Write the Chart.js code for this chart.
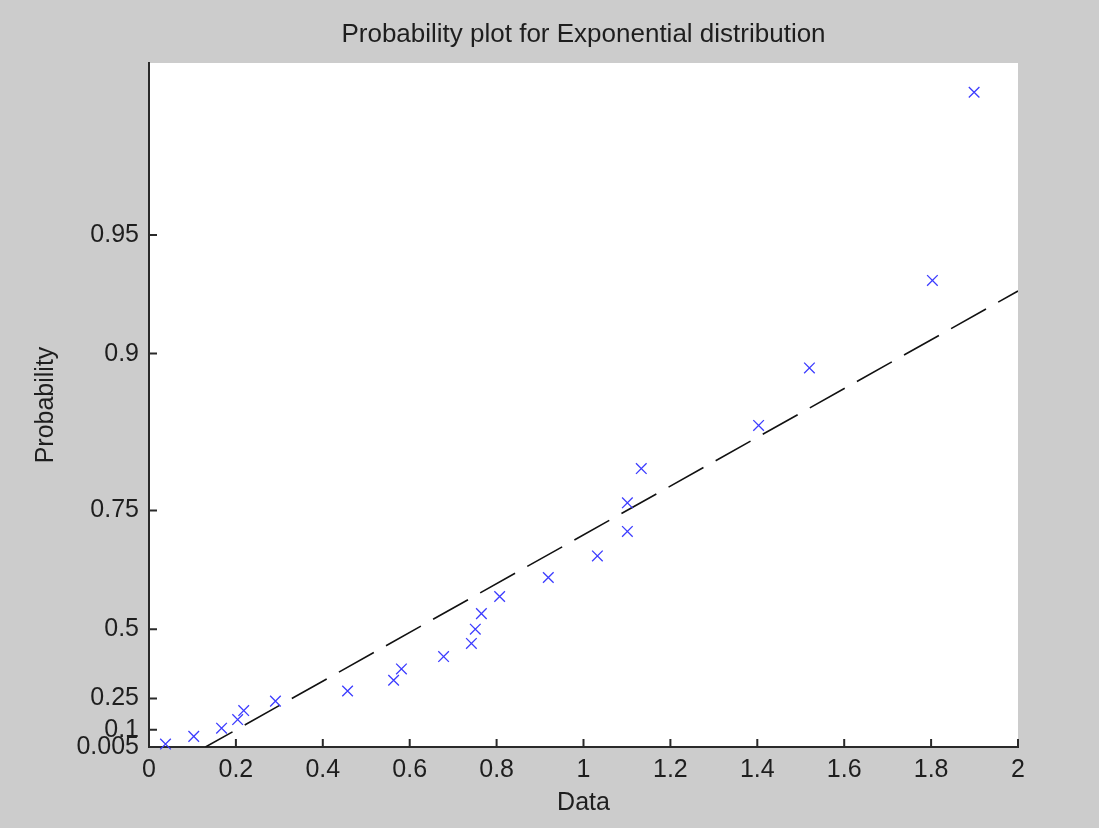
<!DOCTYPE html>
<html>
<head>
<meta charset="utf-8">
<script src="https://cdn.jsdelivr.net/npm/chart.js@4/dist/chart.umd.min.js"></script>
<style>
  html, body { margin: 0; padding: 0; background: #cccccc; }
  #wrap { width: 1099px; height: 828px; }
</style>
</head>
<body>
<div id="wrap"><canvas id="probChart"></canvas></div>
<script>
// sample values (x) and plotted positions on the exponential probability scale (y)
const dataX = [0.038, 0.103, 0.167, 0.204, 0.218, 0.291, 0.457, 0.563, 0.581, 0.678, 0.742, 0.751,
               0.765, 0.807, 0.919, 1.032, 1.101, 1.101, 1.133, 1.403, 1.520, 1.803, 1.899];
const dataY = [0.022, 0.067, 0.115, 0.165, 0.218, 0.273, 0.332, 0.395, 0.461, 0.533, 0.610, 0.693,
               0.784, 0.884, 0.995, 1.121, 1.264, 1.431, 1.631, 1.883, 2.219, 2.730, 3.829];

// reference line (dashed), end points
const refLineX = [0.13, 2];
const refLineY = [0.005, 2.668];

// probability tick labels on the y axis
const probTicks = [0.005, 0.1, 0.25, 0.5, 0.75, 0.9, 0.95];
const probLabels = ['0.005', '0.1', '0.25', '0.5', '0.75', '0.9', '0.95'];

const xTicks = [0, 0.2, 0.4, 0.6, 0.8, 1, 1.2, 1.4, 1.6, 1.8, 2];

const font = 'Liberation Sans, Arial, sans-serif';
const textColor = '#1e1e1e';
const axisColor = '#2a2a2a';

// gray figure, white axes area
const bgPlugin = {
  id: 'bg',
  beforeDraw(chart) {
    const { ctx, chartArea: a } = chart;
    ctx.save();
    ctx.fillStyle = '#cccccc';
    ctx.fillRect(0, 0, chart.width, chart.height);
    ctx.fillStyle = '#ffffff';
    ctx.fillRect(a.left, a.top, a.right - a.left, a.bottom - a.top);
    ctx.restore();
  }
};

// MATLAB style inward ticks
const tickPlugin = {
  id: 'inTicks',
  afterDatasetsDraw(chart) {
    const { ctx, chartArea: a, scales } = chart;
    const len = 8;
    ctx.save();
    ctx.strokeStyle = axisColor;
    ctx.lineWidth = 2;
    ctx.beginPath();
    scales.x.ticks.forEach(t => {
      const px = scales.x.getPixelForValue(t.value);
      ctx.moveTo(px, a.bottom);
      ctx.lineTo(px, a.bottom - len);
    });
    scales.y.ticks.forEach(t => {
      const py = scales.y.getPixelForValue(t.value);
      ctx.moveTo(a.left, py);
      ctx.lineTo(a.left + len, py);
    });
    ctx.stroke();
    ctx.restore();
  }
};

const ctx = document.getElementById('probChart');

new Chart(ctx, {
  type: 'scatter',
  data: {
    datasets: [
      {
        label: 'Data',
        data: dataX.map((x, i) => ({ x: x, y: dataY[i] })),
        pointStyle: 'crossRot',
        pointRadius: 7.5,
        pointBorderWidth: 1.3,
        borderColor: 'rgb(60, 60, 255)',
        backgroundColor: 'rgb(60, 60, 255)',
        showLine: false,
        clip: false,
        order: 1
      },
      {
        label: 'Reference',
        type: 'line',
        data: refLineX.map((x, i) => ({ x: x, y: refLineY[i] })),
        borderColor: '#111111',
        borderWidth: 1.6,
        borderDash: [40, 14],
        borderDashOffset: 9,
        pointRadius: 0,
        fill: false,
        order: 2
      }
    ]
  },
  options: {
    responsive: true,
    maintainAspectRatio: false,
    animation: false,
    events: [],
    layout: {
      padding: { left: 0, right: 81, top: 0, bottom: 0 }
    },
    plugins: {
      legend: { display: false },
      tooltip: { enabled: false },
      title: {
        display: true,
        fullSize: false,
        text: 'Probability plot for Exponential distribution',
        color: textColor,
        font: { family: font, size: 26, weight: 'normal' },
        padding: { top: 19, bottom: 12.8 }
      }
    },
    scales: {
      x: {
        type: 'linear',
        min: 0,
        max: 2,
        afterFit(scale) { scale.height = 81; },
        afterBuildTicks(scale) {
          scale.ticks = xTicks.map(v => ({ value: v }));
        },
        grid: { display: false, drawTicks: false },
        border: { display: true, color: axisColor, width: 2 },
        ticks: {
          autoSkip: false,
          maxRotation: 0,
          padding: 8,
          color: textColor,
          font: { family: font, size: 25 },
          callback: v => String(Number(v.toFixed(1)))
        },
        title: {
          display: true,
          text: 'Data',
          color: textColor,
          font: { family: font, size: 25 },
          padding: { top: 0, bottom: 10 }
        }
      },
      y: {
        type: 'linear',
        min: 0.005,
        max: 4.0,
        afterFit(scale) { scale.width = 149; },
        afterBuildTicks(scale) {
          scale.ticks = probTicks.map(p => ({ value: -Math.log(1 - p) }));
        },
        grid: { display: false, drawTicks: false },
        border: { display: true, color: axisColor, width: 2 },
        ticks: {
          autoSkip: false,
          padding: 10,
          color: textColor,
          font: { family: font, size: 25 },
          callback: (v, i) => probLabels[i]
        },
        title: {
          display: true,
          text: 'Probability',
          color: textColor,
          font: { family: font, size: 25 },
          padding: { top: 31, bottom: 0 }
        }
      }
    }
  },
  plugins: [bgPlugin, tickPlugin]
});
</script>
</body>
</html>
